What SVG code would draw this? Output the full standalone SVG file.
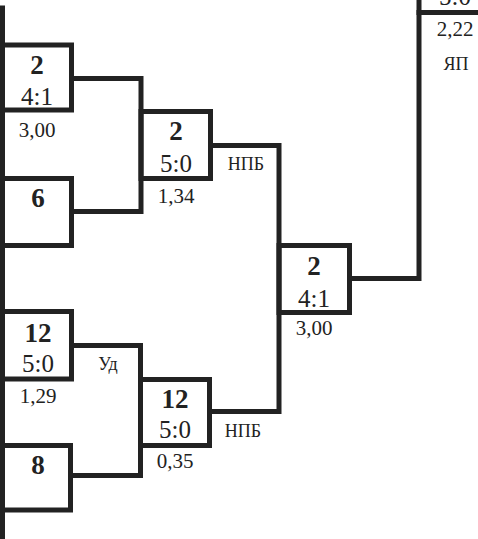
<svg xmlns="http://www.w3.org/2000/svg" width="478" height="539" viewBox="0 0 478 539">
<style>
.ln{fill:none;stroke:#222;stroke-width:5;stroke-linejoin:miter;stroke-linecap:square}
.bx{fill:none;stroke:#222;stroke-width:5}
text{font-family:"Liberation Serif","Times New Roman",serif;fill:#222;text-anchor:middle}
.n{font-size:27px;font-weight:bold}
.s{font-size:25px}
.c{font-size:21px}
.l{font-size:18px}
</style>
<rect width="478" height="539" fill="#fff"/>
<g id="connectors">
<path class="ln" d="M2.5,8 V539"/>
<path class="ln" d="M71.5,78.5 H141 V211.5 H71.5"/>
<path class="ln" d="M210.5,145.5 H279 V411.5 H209.5"/>
<path class="ln" d="M71.5,345.5 H140.5 V475.5 H70.5"/>
<path class="ln" d="M349.5,278.5 H419 V12.5"/>
</g>
<g id="nodeA">
<rect class="bx" x="2.5" y="45" width="69" height="65"/>
<text class="n" x="37" y="74">2</text>
<text class="s" x="37" y="105">4:1</text>
<text class="c" x="37" y="137">3,00</text>
</g>
<g id="nodeB">
<rect class="bx" x="2.5" y="178.5" width="69" height="67"/>
<text class="n" x="38" y="207">6</text>
</g>
<g id="nodeC">
<rect class="bx" x="141" y="111.5" width="69.5" height="67"/>
<text class="n" x="176" y="140">2</text>
<text class="s" x="176" y="172">5:0</text>
<text class="c" x="176" y="203">1,34</text>
<text class="l" x="246" y="170">НПБ</text>
</g>
<g id="nodeD">
<rect class="bx" x="279" y="245.5" width="70.5" height="67"/>
<text class="n" x="314" y="275">2</text>
<text class="s" x="314" y="307">4:1</text>
<text class="c" x="314" y="335">3,00</text>
</g>
<g id="nodeTop">
<rect class="bx" x="419" y="-60" width="80" height="72.5"/>
<text class="s" x="455" y="5">5:0</text>
<text class="c" x="455" y="36">2,22</text>
<text class="l" x="456" y="70">ЯП</text>
</g>
<g id="nodeE">
<rect class="bx" x="2.5" y="311.5" width="69" height="67.5"/>
<text class="n" x="38" y="342">12</text>
<text class="s" x="38" y="372">5:0</text>
<text class="c" x="38" y="403">1,29</text>
<text class="l" x="108" y="370">Уд</text>
</g>
<g id="nodeF">
<rect class="bx" x="2.5" y="445.5" width="68" height="64.5"/>
<text class="n" x="38" y="474">8</text>
</g>
<g id="nodeG">
<rect class="bx" x="140.5" y="379.5" width="69" height="66"/>
<text class="n" x="175" y="408">12</text>
<text class="s" x="175" y="438">5:0</text>
<text class="c" x="175" y="468">0,35</text>
<text class="l" x="243" y="437">НПБ</text>
</g>
</svg>
